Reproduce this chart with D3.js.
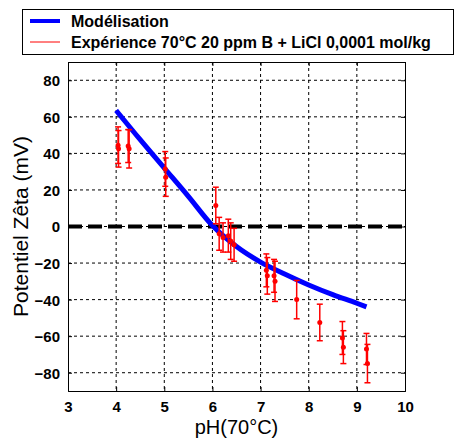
<!DOCTYPE html>
<html><head><meta charset="utf-8">
<script src="https://cdn.jsdelivr.net/npm/d3@7"></script>
<style>body{margin:0;background:#fff}svg{display:block}text{font-family:"Liberation Sans",Arial,sans-serif}</style>
</head><body><svg id="c" width="460" height="443"></svg>
<script>
const modelPH  = [4.0, 4.5, 5.0, 5.5, 6.0, 6.5, 7.0, 7.5, 8.0, 8.5, 9.0, 9.2];
const modelZeta= [63.5, 47.5, 32, 16.5, 0.5, -11, -19.5, -26, -32, -37.3, -42, -44];
const expPH    = [4.04, 4.05, 4.25, 4.27, 5.02, 5.03, 6.07, 6.14, 6.22, 6.33, 6.38, 6.45, 7.12, 7.14, 7.28, 7.30, 7.75, 8.23, 8.70, 8.72, 9.20, 9.22];
const expZeta  = [44.5, 42.5, 44, 42.5, 31.5, 27, 11.5, -4, -6, -5, -8, -10, -24, -27, -27, -30, -40, -52.5, -61, -66, -67, -75];
const expErr   = [10, 10, 9, 10.5, 9.5, 10.5, 10, 9, 8, 9, 10, 9, 9, 10, 9, 11, 10.5, 10, 9, 9, 8.5, 10.5];
const xTicks = [3, 4, 5, 6, 7, 8, 9, 10];
const yTicks = [-80, -60, -40, -20, 0, 20, 40, 60, 80];
const legendLabels = ["Modélisation", "Expérience 70°C 20 ppm B + LiCl 0,0001 mol/kg"];

const svg = d3.select("#c");
const L = 68, R = 405, T = 62, B = 391;
const x = d3.scaleLinear().domain([3, 10]).range([L, R]);
const y = d3.scaleLinear().domain([-90, 90]).range([B, T]);

// grid
const g = svg.append("g");
g.selectAll(".vg").data(xTicks.filter(d => d > 3 && d < 10)).enter().append("line")
  .attr("x1", d => x(d)).attr("x2", d => x(d)).attr("y1", T).attr("y2", B)
  .attr("stroke", "#000").attr("stroke-width", 1).attr("stroke-dasharray", "3,3");
g.selectAll(".hg").data(yTicks).enter().append("line")
  .attr("y1", d => y(d)).attr("y2", d => y(d)).attr("x1", L).attr("x2", R)
  .attr("stroke", "#000").attr("stroke-width", 1).attr("stroke-dasharray", "3,3");

// zero line
svg.append("line").attr("x1", L).attr("x2", R).attr("y1", y(0)).attr("y2", y(0))
  .attr("stroke", "#000").attr("stroke-width", 4).attr("stroke-dasharray", "14,6");

// axes
const xAx = svg.append("g").attr("transform", `translate(0,${B})`)
  .call(d3.axisBottom(x).tickValues(xTicks).tickSize(-4).tickPadding(10).tickFormat(d3.format("d")));
const yAx = svg.append("g").attr("transform", `translate(${L},0)`)
  .call(d3.axisLeft(y).tickValues(yTicks).tickSize(-4).tickPadding(8).tickFormat(d3.format("d")));
svg.append("g").attr("transform", `translate(0,${T})`)
  .call(d3.axisTop(x).tickValues(xTicks).tickSize(-4).tickFormat(""));
svg.append("g").attr("transform", `translate(${R},0)`)
  .call(d3.axisRight(y).tickValues(yTicks).tickSize(-4).tickFormat(""));
svg.selectAll(".domain").attr("stroke", "#000").attr("stroke-width", 1);
svg.selectAll(".tick line").attr("stroke", "#000");
[xAx, yAx].forEach(a => a.selectAll("text").attr("font-family", "Liberation Sans, Arial, sans-serif")
  .attr("font-size", 15).attr("font-weight", "bold").attr("fill", "#000"));
yAx.selectAll("text").attr("dy", "0.36em");

// model
svg.append("path").datum(modelPH.map((p, i) => [p, modelZeta[i]]))
  .attr("fill", "none").attr("stroke", "#0000ff").attr("stroke-width", 5)
  .attr("d", d3.line().x(d => x(d[0])).y(d => y(d[1])).curve(d3.curveMonotoneX));

// experiments
const exp = expPH.map((p, i) => ({p, z: expZeta[i], e: expErr[i]}));
const eg = svg.append("g").attr("stroke", "#ff0000").attr("stroke-width", 1.5);
eg.selectAll(".eb").data(exp).enter().append("line")
  .attr("x1", d => x(d.p)).attr("x2", d => x(d.p))
  .attr("y1", d => y(d.z + d.e)).attr("y2", d => y(d.z - d.e));
eg.selectAll(".ct").data(exp).enter().append("line")
  .attr("x1", d => x(d.p) - 3).attr("x2", d => x(d.p) + 3)
  .attr("y1", d => y(d.z + d.e)).attr("y2", d => y(d.z + d.e));
eg.selectAll(".cb").data(exp).enter().append("line")
  .attr("x1", d => x(d.p) - 3).attr("x2", d => x(d.p) + 3)
  .attr("y1", d => y(d.z - d.e)).attr("y2", d => y(d.z - d.e));
svg.append("g").selectAll("circle").data(exp).enter().append("circle")
  .attr("cx", d => x(d.p)).attr("cy", d => y(d.z)).attr("r", 2.5).attr("fill", "#ff0000");

// axis titles
svg.append("text").attr("x", (L + R) / 2).attr("y", 434).attr("text-anchor", "middle")
  .attr("font-size", 20).text("pH(70°C)");
svg.append("text").attr("transform", `translate(28,${(T + B) / 2}) rotate(-90)`)
  .attr("text-anchor", "middle").attr("font-size", 21).text("Potentiel Zêta (mV)");

// legend
svg.append("rect").attr("x", 22.5).attr("y", 9.5).attr("width", 431).attr("height", 45)
  .attr("fill", "#fff").attr("stroke", "#000").attr("stroke-width", 1);
const lc = ["#0000ff", "#ff0000"], lw = [4, 1];
legendLabels.forEach((t, i) => {
  const ly = 21 + i * 21;
  svg.append("line").attr("x1", 30).attr("x2", 60).attr("y1", ly).attr("y2", ly)
    .attr("stroke", lc[i]).attr("stroke-width", lw[i]);
  svg.append("text").attr("x", 71).attr("y", ly + 6).attr("font-size", 16)
    .attr("font-weight", "bold").text(t);
});
</script></body></html>
